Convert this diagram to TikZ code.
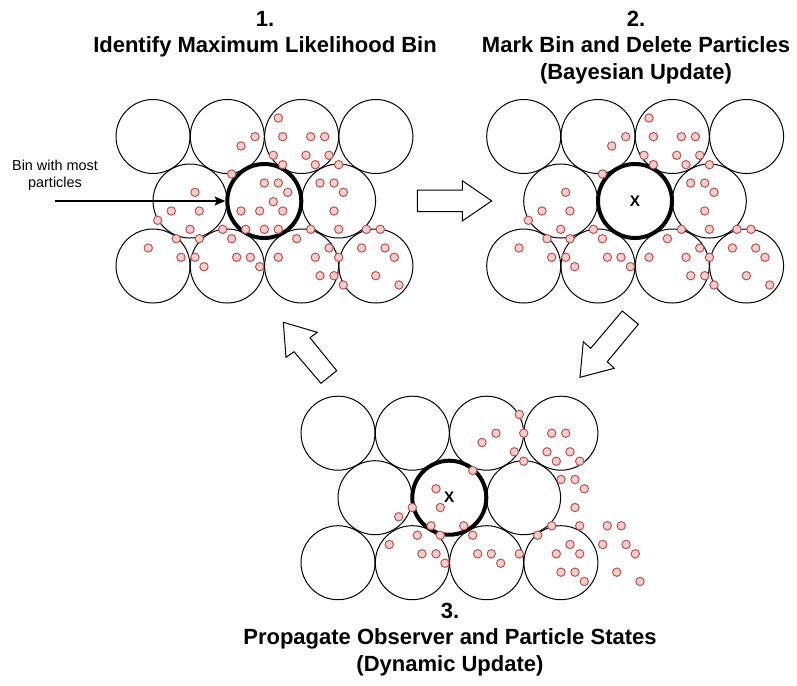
\documentclass[tikz,border=0pt]{standalone}
\usepackage{fontspec}
\setmainfont{Liberation Sans}
\usetikzlibrary{arrows.meta}
\definecolor{pfill}{HTML}{F8CECC}
\definecolor{pdraw}{HTML}{B85450}
\def\commonparticles{278.3/118, 255/136.7, 241/146, 282.7/136.7, 310.7/136.7, 324.7/136.7, 273.3/155.3, 306/155.3, 329/155.3, 282.7/164.7, 315.3/164.7, 338.7/164.7, 231.7/174, 320/183, 334/183, 343.3/192.3, 195/192.3, 171.3/211, 199.3/211, 334/211, 157.7/220.3, 190/229.3, 222.7/229.3, 310.7/229.3, 338.7/229.3, 366.3/229.3, 380.3/229.3, 176.3/238.7, 199.3/238.7, 231.7/238.7, 296.7/238.7, 148.3/248, 329/248, 361.7/248, 385/248, 181/257.3, 195/257.3, 236.7/257.3, 250.3/257.3, 278.3/257.3, 315.3/257.3, 338.7/257.3, 394.3/257.3, 204/266.7, 259.7/266.7, 320/275.7, 334/275.7, 375.7/275.7, 343.3/285, 399/285}
\def\insideparticles{264.3/183, 278.3/183, 287.7/192.3, 273.3/201.7, 241/211, 259.7/211, 282.7/211, 245.7/229.3, 264.3/229.3, 278.3/229.3}
\newcommand\drawbinpanel[4]{% prefix, dx, dy, text of marked bin
  \foreach \k in {0,1,2,3} {
    \node[bin] (#1t\k) at ({#2+153+74.3*\k},{#3+136.5}) {};
    \node[bin] (#1b\k) at ({#2+153+74.3*\k},{#3+266}) {};
  }
  \foreach \k in {0,2} {
    \node[bin] (#1m\k) at ({#2+190+74.3*\k},{#3+201}) {};
  }
  \node[mlbin] (#1m1) at ({#2+264.3},{#3+201}) {#4};
}
\begin{document}
\begin{tikzpicture}[x=0.75pt,y=-0.75pt,
  bin/.style={circle,draw=black,line width=0.75pt,minimum size=55.5pt,inner sep=0pt},
  mlbin/.style={bin,line width=3pt,font=\bfseries\fontsize{11.5}{13}\selectfont},
  particle/.style={circle,draw=pdraw,fill=pfill,line width=0.75pt,minimum size=6.3pt,inner sep=0pt},
  titletext/.style={font=\bfseries\fontsize{16.5}{19.8}\selectfont,anchor=base,inner sep=0pt},
  labeltext/.style={font=\fontsize{10.8}{12.6}\selectfont,anchor=base,inner sep=0pt},
  blockarrow/.style={draw=black,fill=white,line width=0.75pt,line join=miter}]
\useasboundingbox (0,0) rectangle (797,686);

% titles
\node[titletext] (t1n) at (265,26.3) {1.};
\node[titletext] (t1a) at (265,52.7) {Identify Maximum Likelihood Bin};
\node[titletext] (t2n) at (636,26.3) {2.};
\node[titletext] (t2a) at (636,52.7) {Mark Bin and Delete Particles};
\node[titletext] (t2b) at (636,79.1) {(Bayesian Update)};
\node[titletext] (t3n) at (450,618) {3.};
\node[titletext] (t3a) at (450,644.5) {Propagate Observer and Particle States};
\node[titletext] (t3b) at (450,671) {(Dynamic Update)};

% bins
\drawbinpanel{pa}{0}{0}{}
\drawbinpanel{pb}{370.7}{0}{X}
\drawbinpanel{pc}{185}{296.7}{X}

% particles
\foreach \x/\y [count=\i] in \commonparticles {
  \node[particle] (qa\i) at (\x,\y) {};
  \node[particle] (qb\i) at ({\x+370.7},\y) {};
  \node[particle] (qc\i) at ({\x+241},{\y+296.5}) {};
}
\foreach \x/\y [count=\i] in \insideparticles {
  \node[particle] (qi\i) at (\x,\y) {};
}

% label and arrow
\node[labeltext] (lbl1) at (55,170.7) {Bin with most};
\node[labeltext] (lbl2) at (55,187.3) {particles};
\coordinate (lblstart) at (55,201);
\draw[line width=1.1pt,-{Stealth[length=8pt,width=6.8pt,inset=1.5pt]}] (lblstart) -- (pam1.west);

% block arrows
\draw[blockarrow] (417.3,190) -- (462.3,190) -- (462.3,180.7) -- (491.7,200.9) -- (462.3,221) -- (462.3,211.7) -- (417.3,211.7) -- cycle;
\draw[blockarrow] (622.3,311) -- (590.7,348.3) -- (583.3,341.7) -- (580,377.3) -- (614.3,368.3) -- (607.3,361.7) -- (638.3,324.3) -- cycle;
\draw[blockarrow] (283.3,322.3) -- (317.3,332.3) -- (310,337.7) -- (336.7,370.7) -- (321,383.3) -- (294,351.7) -- (286,357.3) -- cycle;
\end{tikzpicture}
\end{document}
